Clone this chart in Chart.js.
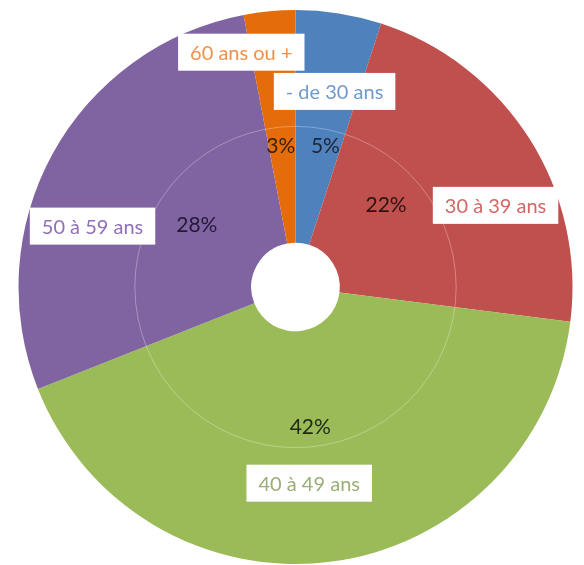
<!DOCTYPE html>
<html>
<head>
<meta charset="utf-8">
<script src="https://cdn.jsdelivr.net/npm/chart.js@4/dist/chart.umd.min.js"></script>
<style>
  html, body { margin: 0; padding: 0; background: #fff; }
  #wrap { position: relative; width: 584px; height: 565px; }
</style>
</head>
<body>
<div id="wrap"><canvas id="chart"></canvas></div>
<script>
// Répartition par tranche d'âge (sens horaire depuis midi)
const categories = ['- de 30 ans', '30 à 39 ans', '40 à 49 ans', '50 à 59 ans', '60 ans ou +'];
const valeurs = [5, 22, 42, 28, 3];
const couleurs = ['#4f81bd', '#c0504d', '#9bbb59', '#8064a2', '#e46c0a'];
const couleursTexte = ['#7199cc', '#d06866', '#9aae78', '#9070b8', '#f29048'];
const couleursPct = ['#1c2638', '#2b1313', '#1f2a12', '#231a33', '#3a220c'];

// placement des étiquettes : [angle en degrés depuis midi, fraction du rayon]
const posPct = [[12, 0.52], [48, 0.44], [174, 0.51], [302, 0.42], [354, 0.51]];
const posCat = [[11.3, 0.72], [67.8, 0.78], [176, 0.71], [286.7, 0.765], [347, 0.87]];

const FONT = 'Lato, "Liberation Sans", sans-serif';

const etiquettes = {
    id: 'etiquettes',
    afterDatasetsDraw(chart) {
        const ctx = chart.ctx;
        const arcs = chart.getDatasetMeta(0).data;
        const a0 = arcs[0];
        const cx = a0.x, cy = a0.y, R = a0.outerRadius, r = a0.innerRadius;

        // cercle séparateur discret
        ctx.save();
        ctx.beginPath();
        ctx.arc(cx, cy, (R + r) / 2, 0, Math.PI * 2);
        ctx.strokeStyle = 'rgba(255,255,255,0.3)';
        ctx.lineWidth = 1;
        ctx.stroke();

        const pt = (p) => {
            const ang = p[0] * Math.PI / 180;
            return { x: cx + Math.sin(ang) * R * p[1], y: cy - Math.cos(ang) * R * p[1] };
        };

        ctx.textAlign = 'center';
        ctx.textBaseline = 'middle';

        valeurs.forEach((v, i) => {
            const p = pt(posPct[i]);
            ctx.font = '21px ' + FONT;
            ctx.fillStyle = couleursPct[i];
            ctx.fillText(v + '%', p.x, p.y);

            const c = pt(posCat[i]);
            ctx.font = '20px ' + FONT;
            const w = ctx.measureText(categories[i]).width + 24;
            const h = 37;
            ctx.fillStyle = '#ffffff';
            ctx.fillRect(c.x - w / 2, c.y - h / 2, w, h);
            ctx.fillStyle = couleursTexte[i];
            ctx.fillText(categories[i], c.x, c.y + 1);
        });
        ctx.restore();
    }
};

new Chart(document.getElementById('chart'), {
    type: 'doughnut',
    data: {
        labels: categories,
        datasets: [{
            data: valeurs,
            backgroundColor: couleurs,
            borderWidth: 0,
        }],
    },
    options: {
        responsive: true,
        maintainAspectRatio: false,
        animation: false,
        cutout: '16%',
        layout: { padding: { left: 18, right: 11, top: 10, bottom: 1 } },
        plugins: {
            legend: { display: false },
            tooltip: { enabled: false },
        },
    },
    plugins: [etiquettes],
});
</script>
</body>
</html>
